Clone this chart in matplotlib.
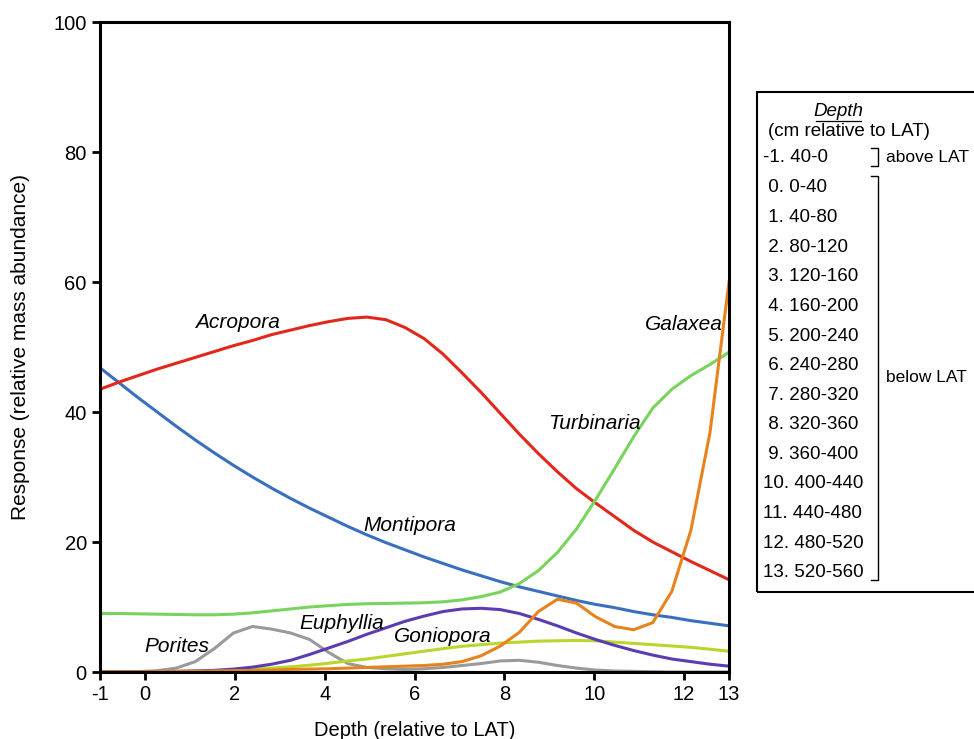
import numpy as np
import matplotlib
matplotlib.use("Agg")
from matplotlib import pyplot as plt
from matplotlib.patches import Rectangle
from matplotlib.lines import Line2D

plt.rcParams['font.family'] = ['Liberation Sans', 'DejaVu Sans']

# depth grid (34 evenly spaced points from -1 to 13)
depth = np.linspace(-1, 13, 34)

acropora = [43.5, 44.6, 45.6, 46.6, 47.5, 48.4, 49.3, 50.2, 51.0, 51.9, 52.6, 53.3,
            53.9, 54.4, 54.6, 54.2, 53.0, 51.3, 48.9, 46.0, 43.0, 39.8, 36.6, 33.6,
            30.8, 28.2, 26.0, 23.9, 21.8, 20.0, 18.5, 17.0, 15.6, 14.2]
montipora = [46.8, 44.5, 42.2, 40.0, 37.8, 35.7, 33.7, 31.8, 30.0, 28.3, 26.7, 25.2,
             23.8, 22.4, 21.1, 19.9, 18.8, 17.7, 16.7, 15.7, 14.8, 13.9, 13.1, 12.4,
             11.7, 11.0, 10.4, 9.9, 9.3, 8.8, 8.4, 7.9, 7.5, 7.1]
turbinaria = [9.0, 9.0, 8.95, 8.9, 8.85, 8.8, 8.8, 8.9, 9.1, 9.4, 9.7, 10.0,
              10.2, 10.4, 10.5, 10.55, 10.6, 10.65, 10.8, 11.1, 11.6, 12.3, 13.6, 15.6,
              18.4, 22.0, 26.5, 31.3, 36.2, 40.6, 43.5, 45.6, 47.3, 49.2]
galaxea = [0, 0, 0, 0.05, 0.07, 0.1, 0.15, 0.2, 0.25, 0.3, 0.4, 0.45,
           0.5, 0.6, 0.7, 0.8, 0.9, 1.0, 1.2, 1.6, 2.5, 4.0, 6.1, 9.3,
           11.2, 10.6, 8.5, 7.0, 6.5, 7.6, 12.4, 21.8, 36.8, 60.0]
euphyllia = [0, 0, 0.02, 0.05, 0.1, 0.15, 0.25, 0.45, 0.75, 1.2, 1.8, 2.7,
             3.7, 4.7, 5.8, 6.8, 7.8, 8.6, 9.3, 9.7, 9.8, 9.6, 9.0, 8.1,
             7.1, 6.0, 5.0, 4.1, 3.3, 2.6, 2.0, 1.6, 1.2, 0.9]
goniopora = [0, 0, 0.02, 0.05, 0.1, 0.15, 0.2, 0.3, 0.45, 0.6, 0.8, 1.05,
             1.35, 1.7, 2.0, 2.4, 2.8, 3.2, 3.6, 3.95, 4.2, 4.45, 4.6, 4.75,
             4.8, 4.85, 4.8, 4.6, 4.4, 4.2, 4.0, 3.8, 3.5, 3.2]
porites = [0, 0, 0.05, 0.2, 0.6, 1.6, 3.6, 6.0, 7.0, 6.6, 6.0, 5.0,
           3.0, 1.3, 0.7, 0.5, 0.4, 0.5, 0.7, 1.0, 1.3, 1.7, 1.8, 1.5,
           1.0, 0.6, 0.3, 0.15, 0.1, 0.05, 0, 0, 0, 0]

xticks = [-1, 0, 2, 4, 6, 8, 10, 12, 13]
depth_classes = ["-1. 40-0", " 0. 0-40", " 1. 40-80", " 2. 80-120", " 3. 120-160",
                 " 4. 160-200", " 5. 200-240", " 6. 240-280", " 7. 280-320",
                 " 8. 320-360", " 9. 360-400", "10. 400-440", "11. 440-480",
                 "12. 480-520", "13. 520-560"]

fig = plt.figure(figsize=(9.74, 7.39), dpi=100)
ax = fig.add_axes([100 / 974, 67 / 739, 629 / 974, 650 / 739])

# (series, colour, label, label x, label y)
series = [
    (montipora, "#3a6fc0", "Montipora", 5.9, 22.6),
    (acropora, "#e2281b", "Acropora", 2.05, 53.7),
    (turbinaria, "#78d45c", "Turbinaria", 10.0, 38.3),
    (porites, "#9a9a9a", "Porites", 0.71, 3.9),
    (goniopora, "#b8d62c", "Goniopora", 6.63, 5.4),
    (euphyllia, "#5a3db2", "Euphyllia", 4.37, 7.5),
    (galaxea, "#e8821c", "Galaxea", 12.0, 53.4),
]
for ys, col, name, tx, ty in series:
    ax.plot(depth, ys, color=col, lw=2.2, solid_joinstyle="miter")
    ax.text(tx, ty, name, style="italic", fontsize=15, ha="center", va="center")

ax.set_xlim(-1, 13)
ax.set_ylim(0, 100)
ax.set_xticks(xticks)
ax.set_xticklabels([str(t) for t in xticks])
ax.set_yticks(range(0, 101, 20))
ax.tick_params(direction="out", length=6, width=2, labelsize=14.5)
for s in ax.spines.values():
    s.set_linewidth(2.2)
ax.set_xlabel("Depth (relative to LAT)", fontsize=14.5, labelpad=12)
ax.set_ylabel("Response (relative mass abundance)", fontsize=15, labelpad=17)


# legend box of depth classes, in figure pixels
def fx(px):
    return px / 974


def fy(py):
    return 1 - py / 739


fig.patches.append(Rectangle((fx(757), fy(592)), fx(240), 500 / 739, transform=fig.transFigure,
                             fill=False, lw=1.5, ec="black", clip_on=False))
fig.text(fx(838), fy(112), "Depth", style="italic", fontsize=13.5, ha="center", va="center")
fig.lines.append(Line2D([fx(816), fx(861)], [fy(121), fy(121)], transform=fig.transFigure,
                        color="black", lw=0.9))
fig.text(fx(768), fy(132), "(cm relative to LAT)", fontsize=13.5, ha="left", va="center")
for i, lab in enumerate(depth_classes):
    py = 158 if i == 0 else 188 + (i - 1) * 29.6
    fig.text(fx(763), fy(py), lab, fontsize=13.5, ha="left", va="center")

# brackets
fig.lines.append(Line2D([fx(871), fx(878), fx(878), fx(871)],
                        [fy(148), fy(148), fy(166), fy(166)],
                        transform=fig.transFigure, color="black", lw=1))
fig.lines.append(Line2D([fx(871), fx(878), fx(878), fx(871)],
                        [fy(176), fy(176), fy(580), fy(580)],
                        transform=fig.transFigure, color="black", lw=1))
fig.text(fx(886), fy(157), "above LAT", fontsize=12.5, ha="left", va="center")
fig.text(fx(886), fy(378), "below LAT", fontsize=12.5, ha="left", va="center")

fig.savefig("out.png", dpi=100)
